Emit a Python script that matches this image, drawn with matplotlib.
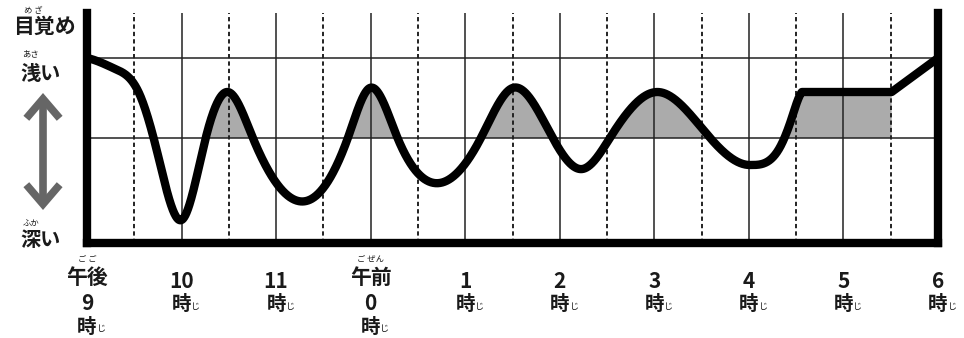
import numpy as np
import matplotlib
matplotlib.use("Agg")
import matplotlib.pyplot as plt
from matplotlib.patches import FancyArrowPatch
from matplotlib.transforms import blended_transform_factory

plt.rcParams['font.family'] = ['Noto Sans CJK JP', 'DejaVu Sans']

# --- datos (horas desde las 21:00, profundidad 0-230) ---
key_hours = [0.0, 0.3, 0.55, 0.75, 1.0, 1.25, 1.49, 1.75, 2.39, 2.77, 2.99,
             3.28, 3.73, 4.16, 4.50, 4.92, 5.24, 5.55, 6.03, 6.60, 7.01,
             7.33, 7.45, 7.56, 8.51, 9.0]
key_depth = [185, 174, 150, 88, 23, 103, 151, 106, 45, 108, 155,
             106, 60, 104, 155, 106, 74, 108, 151, 104, 78,
             96, 124, 151, 151, 185]
shallow_level = 185
middle_level = 105

hours = list(range(10))
hour_labels = ["9", "10", "11", "0", "1", "2", "3", "4", "5", "6"]
period_labels = {0: ("午後", "ご ご"), 3: ("午前", "ご ぜん")}


def clamped_spline(x, y, xs, d0, dn):
    x = np.asarray(x, float)
    y = np.asarray(y, float)
    n = len(x)
    h = np.diff(x)
    A = np.zeros((n, n))
    b = np.zeros(n)
    A[0, 0], A[0, 1] = 2 * h[0], h[0]
    b[0] = 6 * ((y[1] - y[0]) / h[0] - d0)
    for i in range(1, n - 1):
        A[i, i - 1] = h[i - 1]
        A[i, i] = 2 * (h[i - 1] + h[i])
        A[i, i + 1] = h[i]
        b[i] = 6 * ((y[i + 1] - y[i]) / h[i] - (y[i] - y[i - 1]) / h[i - 1])
    A[-1, -2], A[-1, -1] = h[-1], 2 * h[-1]
    b[-1] = 6 * (dn - (y[-1] - y[-2]) / h[-1])
    M = np.linalg.solve(A, b)
    i = np.clip(np.searchsorted(x, xs) - 1, 0, n - 2)
    hi = h[i]
    a = x[i + 1] - xs
    c = xs - x[i]
    return (M[i] * a**3 / (6 * hi) + M[i + 1] * c**3 / (6 * hi)
            + (y[i] / hi - M[i] * hi / 6) * a + (y[i + 1] / hi - M[i + 1] * hi / 6) * c)


W, H = 964, 338
fig = plt.figure(figsize=(W / 100, H / 100), dpi=100)
ax = fig.add_axes([87 / W, 1 - 243 / H, (938 - 87) / W, (243 - 13) / H])


def px(x, y):
    return x / W, 1 - y / H


# curva: dos tramos suaves (hasta el último valle y hasta la meseta), luego rectas
k = key_hours.index(7.01)
xa = np.linspace(key_hours[0], key_hours[k], 1800)
ya = clamped_spline(key_hours[:k + 1], key_depth[:k + 1], xa, -20, 0)
xb = np.linspace(key_hours[k], key_hours[-3], 300)
yb = clamped_spline(key_hours[k:-2], key_depth[k:-2], xb, 0, 120)
xs = np.concatenate([xa, xb[1:], key_hours[-2:]])
ys = np.concatenate([ya, yb[1:], key_depth[-2:]])

fill_mask = (ys > middle_level) & (xs > key_hours[4]) & (xs <= key_hours[-2])
ax.fill_between(xs, ys, middle_level, where=fill_mask, interpolate=True,
                color='#ababab', lw=0, zorder=1)

for hr in hours[1:-1]:
    ax.axvline(hr, color='#222222', lw=1.1, zorder=2)
for hr in hours[:-1]:
    ax.axvline(hr + 0.5, color='#222222', lw=1.4, ls=(0, (2.2, 1.6)), zorder=2)
ax.axhline(shallow_level, color='#222222', lw=1.1, zorder=2)
ax.axhline(middle_level, color='#222222', lw=1.1, zorder=2)

ax.plot(xs, ys, color='black', lw=6, solid_capstyle='round', solid_joinstyle='round', zorder=3)

ax.set_xlim(0, 9)
ax.set_ylim(0, 230)
ax.set_xticks([])
ax.set_yticks([])
ax.spines['top'].set_visible(False)
for s in ['left', 'right', 'bottom']:
    ax.spines[s].set_linewidth(6)
    ax.spines[s].set_color('black')
    ax.spines[s].set_zorder(4)

# etiquetas del eje x
tr = blended_transform_factory(ax.transData, fig.transFigure)
txt_col = '#1a1a1a'
for hr, lab in zip(hours, hour_labels):
    if hr in period_labels:
        kanji, kana = period_labels[hr]
        ax.text(hr, px(0, 277)[1], kanji, transform=tr, ha='center', va='center',
                fontsize=15, fontweight='bold', color=txt_col)
        ax.text(hr, px(0, 259)[1], kana, transform=tr, ha='center', va='center',
                fontsize=6, color=txt_col)
        y_num, y_ji = 304, 327
    else:
        y_num, y_ji = 282, 304
    ax.text(hr, px(0, y_num)[1], lab, transform=tr, ha='center', va='center',
            fontsize=15, fontweight='bold', color=txt_col)
    ax.text(hr, px(0, y_ji)[1], "時", transform=tr, ha='center', va='center',
            fontsize=14, fontweight='bold', color=txt_col)
    ax.text(hr + 0.15, px(0, y_ji + 2)[1], "じ", transform=tr, ha='center', va='center',
            fontsize=6.5, color=txt_col)

# etiquetas del eje y
fig.text(*px(44, 26), "目覚め", ha='center', va='center', fontsize=15,
         fontweight='bold', color=txt_col)
fig.text(*px(33, 10), "め ざ", ha='center', va='center', fontsize=6, color=txt_col)
fig.text(*px(41, 73), "浅い", ha='center', va='center', fontsize=14.5,
         fontweight='bold', color=txt_col)
fig.text(*px(31, 54), "あさ", ha='center', va='center', fontsize=6, color=txt_col)
fig.text(*px(41, 239), "深い", ha='center', va='center', fontsize=14.5,
         fontweight='bold', color=txt_col)
fig.text(*px(31, 223), "ふか", ha='center', va='center', fontsize=6, color=txt_col)

arrow = FancyArrowPatch(px(43, 93), px(43, 210), transform=fig.transFigure,
                        arrowstyle='<->,head_length=14,head_width=12',
                        mutation_scale=1, lw=5.5, color='#666666',
                        shrinkA=0, shrinkB=0, joinstyle='miter', capstyle='butt')
fig.add_artist(arrow)

fig.savefig("out.png", dpi=100)
